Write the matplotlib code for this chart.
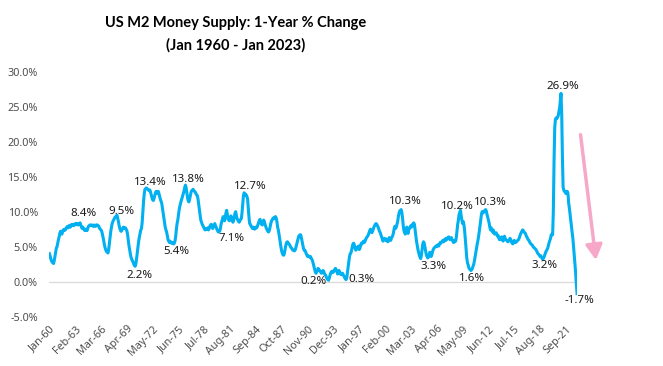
import numpy as np
import pandas as pd
import matplotlib
matplotlib.use('Agg')
import matplotlib.pyplot as plt

# M2 money supply, 1-year % change, monthly
yoy_1960s = [4.0, 3.7, 3.3, 3.0, 2.8, 2.7, 2.6, 3.0, 3.6, 4.2, 4.8, 5.0,
             5.5, 6.0, 6.4, 6.9, 7.2, 7.0, 6.8, 7.2, 7.4, 7.3, 7.5, 7.4,
             7.6, 7.8, 7.9, 7.7, 8.0, 7.9, 7.8, 8.1, 8.0, 8.2, 8.1, 8.0,
             8.1, 8.3, 8.2, 8.3, 8.2, 8.1, 8.3, 8.3, 8.4, 8.1, 7.8, 7.6,
             7.8, 7.6, 7.4, 7.3, 7.5, 7.4, 7.3, 7.6, 7.9, 8.0, 8.1, 8.1,
             8.0, 8.1, 8.0, 7.9, 8.1, 8.0, 7.9, 8.1, 8.0, 8.1, 8.0, 7.9,
             7.6, 7.5, 7.4, 7.2, 6.8, 6.3, 5.8, 5.2, 4.8, 4.5, 4.3, 4.2,
             4.1, 4.6, 5.5, 6.3, 7.2, 7.8, 8.3, 8.6, 8.8, 9.0, 9.2, 9.3,
             9.4, 9.5, 9.0, 8.6, 8.0, 7.6, 7.3, 7.2, 7.4, 7.6, 7.8, 7.7,
             7.6, 7.7, 7.5, 7.3, 6.8, 6.0, 5.2, 4.6, 4.0, 3.5, 3.2, 3.0]
yoy_1970s = [2.8, 2.5, 2.3, 2.2, 2.6, 3.3, 4.2, 5.0, 5.8, 6.4, 6.9, 7.4,
             7.6, 8.5, 10.0, 11.5, 12.6, 13.2, 13.3, 13.4, 13.3, 13.2, 13.1, 13.0,
             13.1, 12.8, 12.4, 12.0, 11.7, 11.6, 11.9, 12.3, 12.7, 12.9, 12.8, 12.6,
             12.9, 12.6, 12.2, 11.8, 11.5, 11.2, 10.5, 9.8, 9.0, 8.3, 7.8, 7.4,
             7.1, 6.6, 6.0, 5.8, 5.6, 5.8, 5.6, 5.5, 5.6, 5.5, 5.4, 5.5,
             5.8, 6.5, 7.5, 8.3, 8.8, 9.6, 10.3, 10.8, 11.2, 11.6, 11.9, 12.3,
             12.6, 13.0, 13.5, 13.8, 13.4, 12.7, 12.0, 11.5, 11.4, 11.8, 12.3, 12.8,
             13.0, 13.1, 13.2, 13.0, 12.9, 12.8, 12.6, 12.4, 12.3, 11.8, 11.0, 10.2,
             9.5, 8.8, 8.5, 8.2, 8.0, 7.8, 7.6, 7.4, 7.5, 7.6, 7.5, 7.7,
             7.4, 7.6, 7.9, 8.1, 8.2, 7.9, 7.6, 7.8, 8.1, 8.3, 8.0, 7.8]
yoy_1980s = [7.5, 7.3, 7.1, 7.3, 7.2, 7.6, 8.2, 8.6, 8.9, 9.3, 9.0, 8.7,
             9.2, 9.8, 10.2, 9.6, 9.0, 8.8, 8.7, 9.0, 9.4, 9.2, 8.8, 8.5,
             8.8, 9.3, 9.8, 10.0, 9.4, 9.0, 8.8, 8.6, 8.5, 8.7, 8.9, 9.0,
             9.8, 11.0, 12.2, 12.7, 12.6, 12.4, 12.4, 12.2, 11.8, 10.5, 9.2, 8.3,
             8.2, 7.9, 7.8, 7.6, 7.8, 7.7, 7.5, 7.6, 7.8, 7.7, 7.9, 8.2,
             8.5, 8.8, 8.9, 8.4, 8.2, 8.1, 8.5, 8.8, 8.6, 8.2, 7.9, 7.6,
             7.4, 7.2, 7.1, 7.3, 7.7, 8.2, 8.6, 8.8, 9.0, 9.1, 9.0, 9.2,
             9.3, 9.1, 8.6, 7.8, 7.4, 6.8, 6.1, 5.4, 4.8, 4.3, 4.0, 3.8,
             3.8, 4.2, 4.8, 5.3, 5.6, 5.7, 5.6, 5.4, 5.3, 5.1, 4.9, 4.8,
             4.6, 4.5, 4.5, 4.4, 4.5, 4.8, 5.2, 5.6, 6.0, 6.4, 6.6, 6.7]
yoy_1990s = [6.7, 6.3, 5.8, 5.3, 4.8, 4.5, 4.5, 4.3, 4.0, 3.8, 3.6, 3.7,
             3.6, 3.5, 3.6, 3.4, 3.2, 3.0, 2.6, 2.2, 1.8, 1.4, 1.2, 1.4,
             1.7, 1.9, 1.8, 1.6, 1.5, 1.3, 1.2, 1.4, 1.6, 1.5, 1.2, 1.0,
             0.9, 0.6, 0.4, 0.3, 0.2, 0.5, 0.9, 1.2, 1.4, 1.5, 1.3, 1.4,
             1.6, 1.8, 1.9, 1.7, 1.4, 1.1, 1.3, 1.6, 1.4, 1.1, 1.0, 1.2,
             1.2, 1.0, 0.8, 0.6, 0.4, 0.3, 0.5, 1.3, 2.2, 3.0, 3.6, 4.0,
             4.1, 4.5, 5.0, 5.4, 5.5, 5.2, 4.8, 4.5, 4.6, 4.8, 5.0, 5.1,
             4.6, 4.8, 5.2, 5.5, 5.4, 5.6, 5.8, 5.6, 5.7, 6.0, 6.2, 6.4,
             6.5, 6.7, 7.0, 7.3, 7.5, 7.2, 7.0, 7.2, 7.5, 7.8, 8.0, 8.2,
             8.3, 8.2, 8.0, 7.8, 7.5, 7.2, 7.0, 6.7, 6.4, 6.1, 5.8, 6.0]
yoy_2000s = [6.2, 6.0, 5.9, 6.1, 5.8, 5.7, 6.0, 6.3, 6.1, 5.9, 6.2, 6.4,
             6.6, 7.0, 7.6, 7.9, 7.6, 7.8, 8.2, 8.6, 9.3, 9.8, 10.1, 10.2,
             10.3, 9.9, 9.1, 8.0, 7.3, 7.0, 6.8, 7.3, 7.8, 7.2, 6.9, 7.6,
             7.6, 7.9, 8.0, 7.8, 8.1, 8.3, 8.4, 8.2, 7.4, 6.6, 5.8, 5.2,
             4.6, 4.2, 3.8, 3.5, 3.3, 3.8, 4.6, 5.4, 5.7, 5.5, 5.0, 4.4,
             3.9, 3.6, 3.4, 3.5, 3.8, 4.2, 4.0, 3.6, 3.9, 4.3, 4.6, 4.8,
             4.9, 5.0, 5.1, 5.0, 5.2, 5.3, 5.1, 5.4, 5.6, 5.5, 5.7, 5.8,
             5.9, 5.7, 6.0, 6.1, 5.9, 6.2, 6.1, 6.3, 6.4, 6.2, 6.0, 6.1,
             6.3, 6.0, 5.8, 5.6, 5.9, 5.7, 5.8, 6.3, 7.2, 8.2, 8.8, 9.6,
             9.9, 10.2, 9.4, 8.8, 8.3, 8.6, 8.1, 7.2, 6.0, 4.6, 3.4, 2.7]
yoy_2010s = [2.4, 2.0, 1.8, 1.7, 1.6, 1.7, 1.9, 2.2, 2.5, 3.0, 3.6, 4.2,
             4.8, 5.4, 5.9, 6.5, 7.2, 8.0, 8.8, 9.6, 10.0, 9.8, 9.9, 10.1,
             10.2, 10.3, 10.1, 9.6, 9.2, 8.8, 8.4, 7.8, 7.4, 7.7, 7.3, 7.1,
             7.4, 6.9, 6.8, 6.9, 7.0, 6.8, 6.5, 6.6, 6.2, 6.0, 6.3, 6.1,
             6.4, 6.0, 5.8, 6.0, 6.5, 6.2, 6.0, 5.9, 5.8, 5.7, 5.8, 6.0,
             6.2, 6.0, 5.7, 5.5, 5.4, 5.6, 5.9, 5.7, 5.6, 5.7, 5.8, 5.9,
             6.0, 6.2, 6.5, 6.8, 7.0, 7.2, 7.4, 7.3, 7.1, 7.0, 6.9, 6.6,
             6.4, 6.2, 6.0, 5.9, 5.7, 5.5, 5.4, 5.3, 5.2, 5.0, 4.9, 4.8,
             4.7, 4.6, 4.4, 4.2, 4.0, 3.9, 3.8, 3.6, 3.7, 3.5, 3.3, 3.2,
             3.4, 3.6, 3.9, 4.2, 4.4, 4.6, 4.8, 5.2, 5.6, 5.9, 6.2, 6.7]
yoy_2020s = [6.8, 6.7, 10.0, 17.0, 22.0, 23.2, 23.4, 23.3, 23.5, 23.7, 24.3, 24.8,
             25.8, 26.9, 24.0, 18.0, 13.5, 13.1, 12.9, 12.8, 12.6, 12.9, 12.9, 12.6,
             11.2, 10.5, 9.6, 8.6, 7.8, 7.0, 6.2, 5.0, 3.8, 2.5, 1.2, -0.4,
             -1.7]

# labelled points: (month, x offset px, y offset px)
labelled = [('1963-09', 3, 9), ('1968-02', 4, 4), ('1970-04', 4, -9),
            ('1971-08', 4, 5), ('1974-11', 3, -8), ('1976-04', 3, 6),
            ('1980-03', 13, -7), ('1983-04', 6, 6), ('1993-05', -15, -1),
            ('1995-06', 15, 0), ('2002-01', 4, 8), ('2004-05', 13, -8),
            ('2009-02', -3, 4), ('2010-05', 1, -8), ('2012-02', 5, 7),
            ('2018-12', 2, -6), ('2021-02', 2, 7), ('2023-01', 2, -7)]

values = np.array(yoy_1960s + yoy_1970s + yoy_1980s + yoy_1990s
                  + yoy_2000s + yoy_2010s + yoy_2020s)
months = pd.date_range('1960-01-01', '2023-01-01', freq='MS')
assert len(values) == len(months)
pos = np.arange(len(months))

plt.rcParams['font.family'] = ['Noto Sans', 'DejaVu Sans']
fig = plt.figure(figsize=(6.63, 3.66), dpi=100)
ax = fig.add_axes([0.0739, 0.1347, 0.797, 0.6694])

ax.plot(pos, values, color='#00B0F0', lw=2.2, solid_joinstyle='round', zorder=3)
ax.axhline(0, color='#D9D9D9', lw=0.9, zorder=1)

# data labels
for month, dx, dy in labelled:
    i = months.get_loc(pd.Timestamp(month + '-01'))
    ax.annotate('%.1f%%' % values[i], (pos[i], values[i]), xytext=(dx, dy),
                textcoords='offset pixels', ha='center', va='center',
                fontsize=8.3, color='#1a1a1a', zorder=4)

# axes formatting
ax.set_xlim(-0.5, len(pos) - 0.5)
ax.set_ylim(-5, 30)
ax.set_yticks(np.arange(-5, 31, 5))
ax.set_yticklabels(['%.1f%%' % t for t in np.arange(-5, 31, 5)])
ticks = pos[::37]
ax.set_xticks(ticks)
ax.set_xticklabels([months[i].strftime('%b-%y') for i in ticks],
                   rotation=45, ha='right', va='top', rotation_mode='anchor')
ax.tick_params(axis='both', length=0, labelsize=7.8, labelcolor='#4d4d4d')
ax.tick_params(axis='y', pad=8)
ax.tick_params(axis='x', pad=5)
for s in ax.spines.values():
    s.set_visible(False)

# pink arrow showing the decline
ax.annotate('', xy=(783, 3.1), xytext=(761, 21.0),
            arrowprops=dict(arrowstyle='-|>,head_length=0.9,head_width=0.5',
                            color='#F7A8C8', lw=2.5, shrinkA=0, shrinkB=0),
            annotation_clip=False)

title_font = dict(ha='center', va='center', fontsize=10.5, fontweight='bold',
                  family=['Lato', 'DejaVu Sans'], color='black')
fig.text(0.356, 1 - 23 / 366, 'US M2 Money Supply: 1-Year % Change', **title_font)
fig.text(0.356, 1 - 45 / 366, '(Jan 1960 - Jan 2023)', **title_font)

fig.savefig('out.png', dpi=100, facecolor='white')
